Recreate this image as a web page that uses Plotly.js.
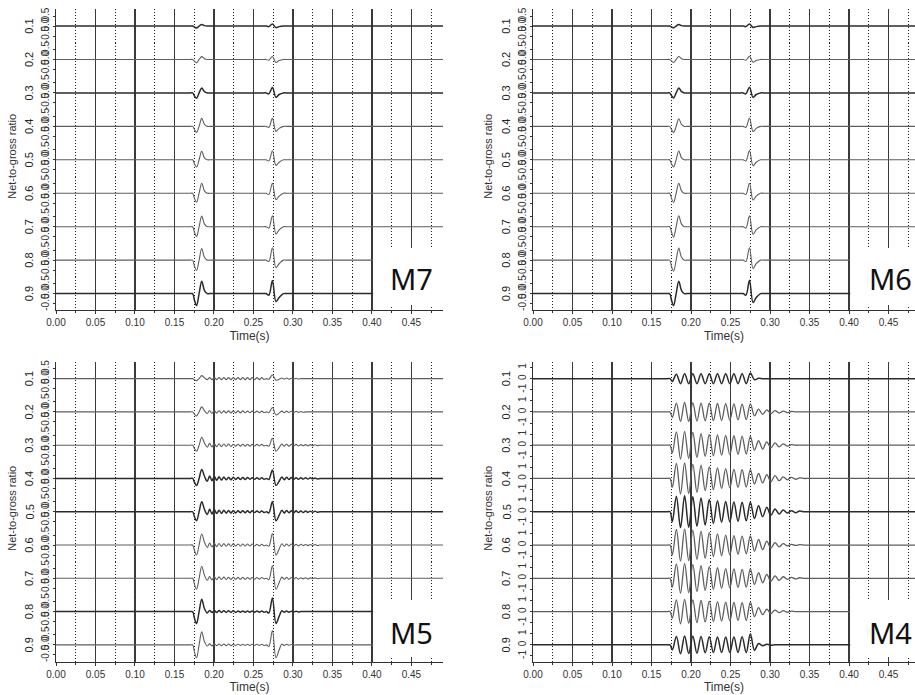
<!DOCTYPE html>
<html><head><meta charset="utf-8">
<script src="https://cdn.plot.ly/plotly-3.0.1.min.js"></script>
<style>html,body{margin:0;padding:0;background:#fff}#chart{width:915px;height:695px}</style>
</head><body><div id="chart"></div>
<script>
// ---------------- DATA ----------------
const rowLabels = ['0.1','0.2','0.3','0.4','0.5','0.6','0.7','0.8','0.9'];
const panelNames = ['M7','M6','M5','M4'];
const ySmallTickVals = [-0.5, 0, 0.5];
const ySmallTickText = ['-0.5','0.0','0.5'];
const yBigTickVals = [-1, 0, 1];
const yBigTickText = ['-1','0','1'];
const xTitle = 'Time(s)';
const yTitle = 'Net-to-gross ratio';

// M7 – wavelet samples (s) and amplitudes per net-to-gross row
const tM7 = [0,0.1700,0.1730,0.1755,0.1780,0.1812,0.1845,0.1880,0.1915,0.1950,0.2630,0.2660,0.2695,0.2740,0.2785,0.2825,0.2880,0.2920,0.4900];
const m7Values = [
 [0,0,0,-0.06,-0.10,0,0.08,0.02,0,0, 0,0,-0.03,0.10,-0.08,-0.03,0,0,0],
 [0,0,0,-0.10,-0.17,0,0.14,0.04,0,0, 0,0,-0.04,0.15,-0.15,-0.05,0,0,0],
 [0,0,0,-0.16,-0.27,0,0.24,0.06,0,0, 0,0,-0.05,0.27,-0.22,-0.08,0,0,0],
 [0,0,0,-0.18,-0.30,0,0.40,0.10,0,0, 0,0,-0.05,0.40,-0.25,-0.10,0,0,0],
 [0,0,0,-0.22,-0.36,0,0.42,0.10,0,0, 0,0,-0.06,0.45,-0.28,-0.12,0,0,0],
 [0,0,0,-0.28,-0.45,0,0.50,0.12,0,0, 0,0,-0.06,0.50,-0.32,-0.14,0,0,0],
 [0,0,0,-0.30,-0.50,0,0.53,0.13,0,0, 0,0,-0.07,0.55,-0.36,-0.16,0,0,0],
 [0,0,0,-0.32,-0.52,0,0.58,0.14,0,0, 0,0,-0.07,0.62,-0.38,-0.18,0,0,0],
 [0,0,0,-0.36,-0.60,0,0.62,0.15,0,0, 0,0,-0.08,0.65,-0.40,-0.20,0,0,0]
];

// M6
const tM6 = [0,0.1700,0.1730,0.1755,0.1780,0.1812,0.1845,0.1880,0.1915,0.1950,0.2630,0.2660,0.2695,0.2740,0.2785,0.2825,0.2880,0.2920,0.4900];
const m6Values = [
 [0,0,0,-0.05,-0.09,0,0.08,0.02,0,0, 0,0,-0.03,0.10,-0.07,-0.03,0,0,0],
 [0,0,0,-0.09,-0.15,0,0.15,0.04,0,0, 0,0,-0.04,0.16,-0.14,-0.05,0,0,0],
 [0,0,0,-0.15,-0.25,0,0.25,0.06,0,0, 0,0,-0.05,0.28,-0.22,-0.08,0,0,0],
 [0,0,0,-0.18,-0.30,0,0.38,0.10,0,0, 0,0,-0.05,0.42,-0.26,-0.10,0,0,0],
 [0,0,0,-0.22,-0.36,0,0.44,0.10,0,0, 0,0,-0.06,0.46,-0.30,-0.12,0,0,0],
 [0,0,0,-0.28,-0.46,0,0.50,0.12,0,0, 0,0,-0.06,0.50,-0.34,-0.14,0,0,0],
 [0,0,0,-0.30,-0.52,0,0.55,0.13,0,0, 0,0,-0.07,0.55,-0.38,-0.16,0,0,0],
 [0,0,0,-0.34,-0.55,0,0.60,0.14,0,0, 0,0,-0.07,0.62,-0.42,-0.18,0,0,0],
 [0,0,0,-0.36,-0.60,0,0.62,0.15,0,0, 0,0,-0.08,0.66,-0.45,-0.20,0,0,0]
];

// M5 – wavelets followed by small ringing
const tM5 = [0,0.1700,0.1730,0.1755,0.1780,0.1812,0.1845,0.1880,
 0.1915,0.1945,0.1975,0.2005,0.2035, 0.2065,0.2095,0.2125,0.2155,0.2185, 0.2215,0.2245,0.2275,0.2305,0.2335, 0.2365,0.2395,0.2425,0.2455,0.2485, 0.2515,0.2545,0.2575,0.2605,0.2635,
 0.2665,0.2695,0.2740,0.2785,0.2825,
 0.2860,0.2890,0.2920,0.2950,0.2980,0.3010,0.3040,0.3070,0.3100,0.3130,0.3160,0.3190,0.3220,0.3250,0.3280,0.3310,
 0.3340,0.3370,0.4900];
const m5Values = [
 [0,0,0,-0.06,-0.10,0,0.15,0.04,
  -0.05,0.05,-0.05,0.05,-0.05, 0.05,-0.05,0.05,-0.05,0.05, -0.05,0.05,-0.05,0.05,-0.05, 0.05,-0.05,0.05,-0.05,0.05, -0.05,0.05,-0.05,0.05,-0.04,
  0,-0.03,0.18,-0.08,-0.03,
  0.03,-0.03,0.03,-0.03,0.02,-0.02,0.02,-0.02,0,0,0,0,0,0,0,0,
  0,0,0],
 [0,0,0,-0.12,-0.20,0,0.25,0.06,
  -0.08,0.07,-0.07,0.06,-0.06, 0.06,-0.06,0.05,-0.05,0.05, -0.05,0.05,-0.05,0.05,-0.05, 0.05,-0.04,0.04,-0.04,0.04, -0.04,0.04,-0.04,0.04,-0.04,
  0,-0.04,0.22,-0.15,-0.06,
  0.04,-0.04,0.04,-0.03,0.03,-0.03,0.03,-0.02,0.02,-0.02,0,0,0,0,0,0,
  0,0,0],
 [0,0,0,-0.18,-0.30,0,0.40,0.10,
  -0.10,0.09,-0.09,0.08,-0.08, 0.07,-0.07,0.06,-0.06,0.06, -0.06,0.05,-0.05,0.05,-0.05, 0.05,-0.05,0.05,-0.05,0.04, -0.04,0.04,-0.04,0.04,-0.04,
  0,-0.05,0.35,-0.30,-0.12,
  0.06,-0.05,0.05,-0.05,0.04,-0.04,0.04,-0.04,0.03,-0.03,0.03,-0.03,0.03,-0.03,0.02,-0.02,
  0,0,0],
 [0,0,0,-0.21,-0.35,0,0.45,0.11,
  -0.14,0.12,-0.11,0.10,-0.09, 0.08,-0.08,0.07,-0.07,0.06, -0.06,0.06,-0.05,0.05,-0.05, 0.05,-0.05,0.05,-0.04,0.04, -0.04,0.04,-0.04,0.04,-0.04,
  0,-0.05,0.42,-0.35,-0.14,
  0.07,-0.06,0.06,-0.05,0.05,-0.05,0.04,-0.04,0.04,-0.03,0.03,-0.03,0.03,-0.02,0.02,-0.02,
  0,0,0],
 [0,0,0,-0.27,-0.45,0,0.50,0.12,
  -0.14,0.12,-0.11,0.10,-0.09, 0.08,-0.08,0.07,-0.07,0.06, -0.06,0.06,-0.06,0.05,-0.05, 0.05,-0.05,0.05,-0.05,0.05, -0.04,0.04,-0.04,0.04,-0.04,
  0,-0.06,0.50,-0.45,-0.18,
  0.07,-0.06,0.06,-0.05,0.05,-0.05,0.05,-0.04,0.04,-0.04,0.04,-0.03,0.03,-0.03,0.03,-0.03,
  0,0,0],
 [0,0,0,-0.30,-0.50,0,0.55,0.14,
  -0.12,0.10,-0.10,0.09,-0.08, 0.08,-0.07,0.07,-0.06,0.06, -0.06,0.06,-0.05,0.05,-0.05, 0.05,-0.05,0.05,-0.05,0.05, -0.05,0.04,-0.04,0.04,-0.04,
  0,-0.06,0.58,-0.50,-0.20,
  0.06,-0.06,0.05,-0.05,0.05,-0.04,0.04,-0.04,0.04,-0.03,0.03,-0.03,0.03,-0.03,0.03,-0.02,
  0,0,0],
 [0,0,0,-0.33,-0.55,0,0.60,0.15,
  -0.10,0.09,-0.08,0.08,-0.07, 0.07,-0.06,0.06,-0.06,0.05, -0.05,0.05,-0.05,0.05,-0.05, 0.05,-0.05,0.04,-0.04,0.04, -0.04,0.04,-0.04,0.04,-0.03,
  0,-0.07,0.62,-0.55,-0.22,
  0.06,-0.05,0.05,-0.05,0.04,-0.04,0.04,-0.04,0.03,-0.03,0.03,-0.03,0.02,-0.02,0.02,-0.02,
  0,0,0],
 [0,0,0,-0.36,-0.60,0,0.62,0.15,
  -0.07,0.06,-0.05,0.05,-0.05, 0.05,-0.04,0.04,-0.04,0.04, -0.04,0.04,-0.04,0.03,-0.03, 0.03,-0.03,0.03,-0.03,0.03, -0.03,0.03,-0.03,0.03,-0.03,
  0,-0.07,0.68,-0.60,-0.24,
  0.04,-0.03,0.03,-0.03,0.02,-0.02,0.02,-0.02,0,0,0,0,0,0,0,0,
  0,0,0],
 [0,0,0,-0.39,-0.65,0,0.65,0.16,
  -0.06,0.05,-0.05,0.05,-0.04, 0.04,-0.04,0.04,-0.04,0.04, -0.04,0.03,-0.03,0.03,-0.03, 0.03,-0.03,0.03,-0.03,0.03, -0.03,0.03,-0.03,0.03,-0.03,
  0,-0.08,0.72,-0.65,-0.26,
  0.04,-0.03,0.03,-0.02,0.02,-0.02,0,0,0,0,0,0,0,0,0,0,
  0,0,0]
];

// M4 – sustained oscillation: extrema times and amplitudes
const tM4 = [0,0.1700,0.1735,
 0.1763,0.1815,0.1867,0.1919,0.1971,0.2023,0.2075,0.2127,0.2179,0.2231,
 0.2283,0.2335,0.2387,0.2439,0.2491,0.2543,0.2595,0.2647,0.2699,0.2751,
 0.2803,0.2855,0.2907,0.2959,0.3011,0.3063,0.3115,0.3167,0.3219,0.3271,
 0.3323,0.3375,
 0.3430,0.3460,0.4900];
const m4Values = [
 [0,0,0,-0.25,0.40,-0.45,0.45,-0.45,0.45,-0.45,0.45,-0.45,0.45, -0.45,0.45,-0.45,0.45,-0.45,0.45,-0.45,0.45,-0.45,0.50, -0.10,0.03,0,0,0,0,0,0,0,0, 0,0, 0,0,0],
 [0,0,0,-0.50,0.80,-0.85,0.85,-0.85,0.82,-0.82,0.80,-0.80,0.78, -0.78,0.76,-0.76,0.74,-0.74,0.72,-0.72,0.70,-0.70,0.72, -0.35,0.25,-0.22,0.18,-0.15,0.12,-0.10,0.08,-0.06,0.04, 0,0, 0,0,0],
 [0,0,0,-0.70,1.20,-1.25,1.25,-1.20,1.15,-1.10,1.05,-1.00,0.98, -0.95,0.92,-0.90,0.88,-0.85,0.85,-0.82,0.80,-0.80,0.80, -0.45,0.40,-0.35,0.30,-0.25,0.20,-0.15,0.12,-0.08,0.05, 0,0, 0,0,0],
 [0,0,0,-0.80,1.35,-1.40,1.40,-1.35,1.30,-1.25,1.20,-1.10,1.05, -1.00,0.95,-0.90,0.88,-0.85,0.82,-0.80,0.80,-0.78,0.80, -0.50,0.45,-0.40,0.35,-0.30,0.25,-0.20,0.15,-0.12,0.10, -0.07,0.05, 0,0,0],
 [0,0,0,-0.90,1.40,-1.45,1.45,-1.40,1.35,-1.30,1.25,-1.20,1.10, -1.05,1.00,-0.95,0.92,-0.90,0.88,-0.85,0.85,-0.82,0.85, -0.60,0.55,-0.45,0.40,-0.32,0.25,-0.20,0.15,-0.12,0.10, -0.08,0.06, 0,0,0],
 [0,0,0,-0.90,1.40,-1.45,1.45,-1.40,1.35,-1.30,1.25,-1.20,1.12, -1.05,1.00,-0.95,0.90,-0.88,0.85,-0.82,0.80,-0.80,0.82, -0.55,0.50,-0.42,0.35,-0.28,0.22,-0.16,0.12,-0.08,0.06, -0.04,0.03, 0,0,0],
 [0,0,0,-0.80,1.30,-1.35,1.35,-1.30,1.25,-1.20,1.15,-1.10,1.05, -1.00,0.95,-0.90,0.88,-0.85,0.85,-0.82,0.80,-0.80,0.85, -0.55,0.50,-0.40,0.35,-0.28,0.22,-0.18,0.14,-0.10,0.08, -0.06,0.05, 0,0,0],
 [0,0,0,-0.60,1.05,-1.10,1.10,-1.05,1.05,-1.00,1.00,-0.95,0.95, -0.90,0.90,-0.85,0.85,-0.82,0.82,-0.80,0.80,-0.80,0.85, -0.45,0.35,-0.28,0.22,-0.18,0.14,-0.10,0.08,-0.06,0.04, 0,0, 0,0,0],
 [0,0,0,-0.45,0.75,-0.80,0.80,-0.78,0.78,-0.75,0.75,-0.72,0.72, -0.70,0.70,-0.70,0.70,-0.68,0.70,-0.68,0.72,-0.70,1.00, -0.50,0.12,-0.08,0.05,-0.03,0,0,0,0,0, 0,0, 0,0,0]
];

// ---------------- LAYOUT / STYLE ----------------
const W = 915, H = 695;
const NARROW = '"Liberation Sans Narrow", "Arial Narrow", "Liberation Sans", Arial, sans-serif';
const SANS = '"Liberation Sans", Arial, sans-serif';
const panels = [
  {name: panelNames[0], t: tM7, v: m7Values, xpx: [56, 443], ypx: [9.3, 310.3], xmax: 0.49,   yr: 0.835, tv: ySmallTickVals, tt: ySmallTickText, dark: [0, 2, 8], box: [248, 305], lab: [411.5, 278], ylabX: 12, lw: 1.1},
  {name: panelNames[1], t: tM6, v: m6Values, xpx: [533, 915], ypx: [9.3, 310.3], xmax: 0.4835, yr: 0.835, tv: ySmallTickVals, tt: ySmallTickText, dark: [0, 2, 8], box: [248, 305], lab: [890, 278], ylabX: 488, lw: 1.1},
  {name: panelNames[2], t: tM5, v: m5Values, xpx: [56, 443], ypx: [362, 661.5], xmax: 0.49,   yr: 0.832, tv: ySmallTickVals, tt: ySmallTickText, dark: [3, 4, 7], box: [600, 657], lab: [411.5, 632], ylabX: 12, lw: 1.1},
  {name: panelNames[3], t: tM4, v: m4Values, xpx: [533, 915], ypx: [362, 661.5], xmax: 0.4835, yr: 1.5,   tv: yBigTickVals,   tt: yBigTickText,   dark: [0, 4, 8], box: [600, 657], lab: [890, 632], ylabX: 488, lw: 1.3}
];

const data = [];
const layout = {
  width: W, height: H,
  margin: {l: 0, r: 0, t: 0, b: 0},
  paper_bgcolor: '#fff', plot_bgcolor: '#fff',
  showlegend: false,
  shapes: [], annotations: []
};

panels.forEach((p, pi) => {
  p.v.forEach((row, ri) => { if (row.length !== p.t.length) throw new Error(p.name + ' row ' + ri + ' length ' + row.length + ' vs ' + p.t.length); });
  const xn = pi + 1;
  const xid = xn === 1 ? 'x' : 'x' + xn;
  const xkey = xn === 1 ? 'xaxis' : 'xaxis' + xn;
  const band = (p.ypx[1] - p.ypx[0]) / 9;
  const bottomYid = 'y' + (pi * 9 + 9);
  layout[xkey] = {
    domain: [p.xpx[0] / W, p.xpx[1] / W], range: [0, p.xmax], anchor: bottomYid,
    tick0: 0, dtick: 0.05, tickformat: '.2f',
    ticks: 'outside', ticklen: 3, tickcolor: '#333', tickwidth: 1,
    showline: true, linecolor: '#333', linewidth: 1,
    showgrid: true, gridcolor: '#3a3a3a', gridwidth: 1.4, zeroline: false,
    tickfont: {family: NARROW, size: 10, color: '#333'},
    minor: {tick0: 0, dtick: 0.025, showgrid: true, gridcolor: '#222', gridwidth: 1, griddash: '1px,2px', ticks: 'outside', ticklen: 2, tickcolor: '#333'},
    title: {text: xTitle, font: {family: SANS, size: 12, color: '#333'}, standoff: 4},
    fixedrange: true
  };
  for (let r = 0; r < 9; r++) {
    const n = pi * 9 + r + 1;
    const yid = n === 1 ? 'y' : 'y' + n;
    const ykey = n === 1 ? 'yaxis' : 'yaxis' + n;
    const top = p.ypx[0] + r * band, bot = top + band;
    layout[ykey] = {
      domain: [1 - bot / H, 1 - top / H], range: [-p.yr, p.yr], anchor: xid,
      tickmode: 'array', tickvals: p.tv, ticktext: p.tt, tickangle: -90,
      tickfont: {family: NARROW, size: 10, color: '#333'},
      ticks: 'outside', ticklen: 2, tickcolor: '#333',
      showline: true, linecolor: '#333', linewidth: 1.3,
      showgrid: false, zeroline: false, fixedrange: true,
      title: {text: rowLabels[r], font: {family: SANS, size: 11, color: '#222'}, standoff: 3}
    };
    const dark = p.dark.indexOf(r) >= 0;
    data.push({
      type: 'scatter', mode: 'lines', x: p.t, y: p.v[r], xaxis: xid, yaxis: yid,
      line: {shape: 'spline', smoothing: 1, color: dark ? '#2b2b2b' : '#5e5e5e', width: dark ? 1.5 : p.lw},
      hoverinfo: 'skip'
    });
  }
  // white label box over the lower right corner
  layout.shapes.push({type: 'rect', xref: xid, yref: 'paper', x0: 0.4015, x1: p.xmax,
    y0: 1 - p.box[1] / H, y1: 1 - p.box[0] / H, fillcolor: '#fff', line: {width: 0}, layer: 'above'});
  layout.annotations.push({xref: 'paper', yref: 'paper', x: p.lab[0] / W, y: 1 - p.lab[1] / H,
    text: p.name, showarrow: false, xanchor: 'center', yanchor: 'middle',
    font: {family: '"Noto Sans", sans-serif', size: 29, color: '#111'}});
  layout.annotations.push({xref: 'paper', yref: 'paper', x: p.ylabX / W, y: 1 - ((p.ypx[0] + p.ypx[1]) / 2 - 3) / H,
    text: yTitle, textangle: -90, showarrow: false, xanchor: 'center', yanchor: 'middle',
    font: {family: SANS, size: 11, color: '#333'}});
});

Plotly.newPlot('chart', data, layout, {staticPlot: true, displayModeBar: false});
</script>
</body></html>
